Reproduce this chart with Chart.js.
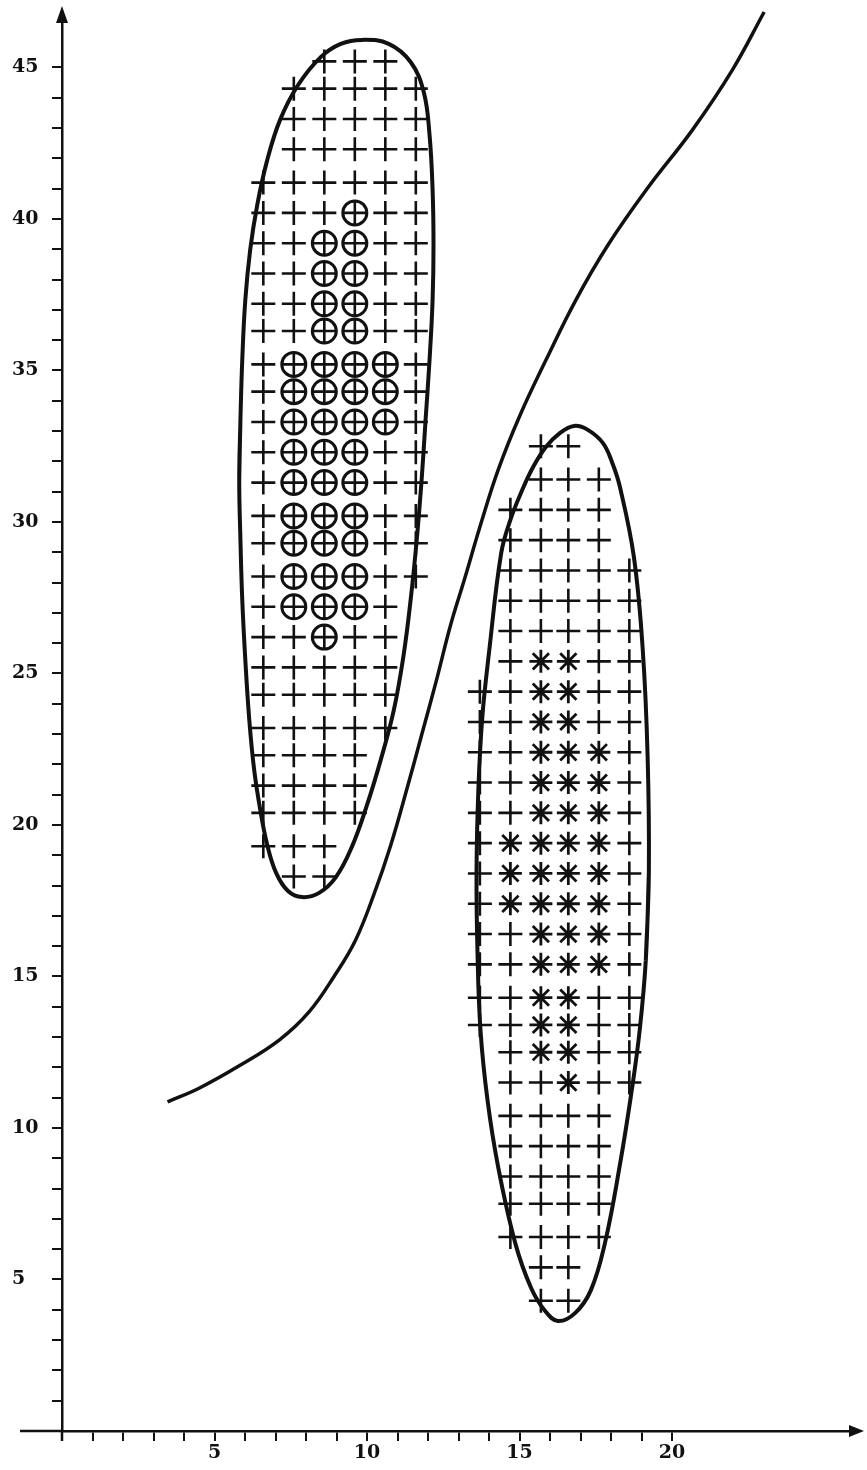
<!DOCTYPE html>
<html>
<head>
<meta charset="utf-8">
<script src="https://cdn.jsdelivr.net/npm/chart.js@4.4.1/dist/chart.umd.min.js"></script>
<style>
  html, body { margin: 0; padding: 0; background: #fff; }
  #wrap { width: 867px; height: 1470px; }
</style>
</head>
<body>
<div id="wrap"><canvas id="chart" width="867" height="1470"></canvas></div>
<script>
// upper-left cluster: column x values, row y values, and marks ('+' plain, 'o' circled, '.' none)
const leftCols = [6.6, 7.6, 8.6, 9.6, 10.6, 11.6];
const leftRows = [45.2, 44.3, 43.3, 42.3, 41.2, 40.2, 39.2, 38.2, 37.2, 36.3, 35.2, 34.3, 33.3, 32.3,
                  31.3, 30.2, 29.3, 28.2, 27.2, 26.2, 25.2, 24.3, 23.2, 22.3, 21.3, 20.4, 19.3, 18.3];
const leftMarks = [
  '..+++.', '.+++++', '.+++++', '.+++++', '++++++', '+++o++', '++oo++', '++oo++', '++oo++', '++oo++',
  '+oooo+', '+oooo+', '+oooo+', '+ooo++', '+ooo++', '+ooo++', '+ooo++', '+ooo++', '+ooo+.', '++o++.',
  '+++++.', '+++++.', '+++++.', '++++..', '++++..', '++++..', '+++...', '.++...'
];

// lower-right cluster ('+' plain, '*' asterisk)
const rightCols = [13.7, 14.7, 15.7, 16.6, 17.6, 18.6];
const rightRows = [32.5, 31.4, 30.4, 29.4, 28.4, 27.4, 26.4, 25.4, 24.4, 23.4, 22.4, 21.4, 20.4, 19.4, 18.4,
                   17.4, 16.4, 15.4, 14.3, 13.4, 12.5, 11.5, 10.4, 9.4, 8.4, 7.5, 6.4, 5.4, 4.3];
const rightMarks = [
  '..++..', '..+++.', '.++++.', '.++++.', '.+++++', '.+++++', '.+++++', '.+**++', '++**++', '++**++',
  '++***+', '++***+', '++***+', '+****+', '+****+', '+****+', '++***+', '++***+', '++**++', '++**++',
  '.+**++', '.++*++', '.++++.', '.++++.', '.++++.', '.++++.', '.++++.', '..++..', '..++..'
];

// boundary outlines (closed: the last two points repeat the start)
const leftBoundary = [
  [5.81, 31.39], [5.85, 33.37], [5.91, 35.35], [6.01, 37.33], [6.17, 38.98], [6.40, 40.46], [6.73, 41.95],
  [7.15, 43.27], [7.74, 44.42], [8.49, 45.35], [9.14, 45.78], [9.83, 45.91], [10.71, 45.78], [11.43, 45.18],
  [11.86, 44.19], [12.05, 42.77], [12.15, 40.96], [12.18, 39.14], [12.15, 37.33], [12.05, 35.35],
  [11.92, 33.37], [11.79, 31.39], [11.63, 29.41], [11.43, 27.43], [11.20, 25.61], [10.88, 23.80],
  [10.45, 22.15], [9.99, 20.63], [9.50, 19.27], [8.98, 18.28], [8.43, 17.76], [7.87, 17.62], [7.41, 17.82],
  [7.02, 18.42], [6.73, 19.34], [6.50, 20.50], [6.30, 21.82], [6.14, 23.47], [6.01, 25.45], [5.91, 27.43],
  [5.85, 29.41], [5.81, 31.39], [5.85, 33.37]
];
const rightBoundary = [
  [19.24, 18.42], [19.14, 15.54], [18.94, 13.23], [18.68, 11.25], [18.29, 8.78], [17.80, 6.20], [17.34, 4.65],
  [16.82, 3.89], [16.26, 3.63], [15.84, 3.96], [15.38, 4.72], [14.86, 6.20], [14.30, 8.71], [13.95, 10.92],
  [13.72, 13.23], [13.62, 15.87], [13.59, 18.42], [13.65, 21.16], [13.78, 23.56], [14.01, 25.78],
  [14.40, 28.98], [14.70, 30.07], [15.06, 30.99], [15.45, 31.82], [15.87, 32.48], [16.33, 32.94],
  [16.79, 33.17], [17.24, 33.04], [17.73, 32.61], [18.03, 31.98], [18.29, 31.16], [18.75, 28.84],
  [19.04, 25.78], [19.20, 22.24], [19.24, 18.42], [19.14, 15.54]
];
const separator = [
  [3.46, 10.86], [4.51, 11.32], [5.81, 12.05], [7.12, 12.90], [8.10, 13.83], [8.95, 15.05], [9.61, 16.17],
  [10.22, 17.69], [10.78, 19.34], [11.30, 21.16], [11.79, 22.97], [12.28, 24.79], [12.74, 26.60],
  [13.19, 28.09], [13.72, 29.90], [14.30, 31.72], [15.02, 33.53], [15.87, 35.35], [16.85, 37.33],
  [17.90, 39.14], [19.20, 41.02], [20.67, 42.94], [21.98, 44.92], [23.02, 46.83]
];

// axis ranges and ticks
const xMax = 25.9;
const yMax = 46.5;
const xTickLast = 20;
const yTickLast = 45;
const labelEvery = 5;

const ink = '#111';

function collect(cols, rows, marks, symbol) {
  const pts = [];
  marks.forEach((row, i) => {
    row.split('').forEach((c, j) => {
      if (c === symbol) pts.push({ x: cols[j], y: rows[i] });
    });
  });
  return pts;
}
const toXY = arr => arr.map(p => ({ x: p[0], y: p[1] }));

const plusPts = collect(leftCols, leftRows, leftMarks, '+').concat(collect(rightCols, rightRows, rightMarks, '+'));
const circlePts = collect(leftCols, leftRows, leftMarks, 'o');
const starPts = collect(rightCols, rightRows, rightMarks, '*');

function curve(points, width) {
  return {
    data: toXY(points),
    showLine: true,
    borderColor: ink,
    borderWidth: width,
    pointRadius: 0,
    tension: 0.4,
    fill: false,
    clip: false
  };
}
function marks(points, style, radius, width) {
  return {
    data: points,
    showLine: false,
    pointStyle: style,
    pointRadius: radius,
    pointBorderWidth: width,
    pointBorderColor: ink,
    pointBackgroundColor: 'rgba(0,0,0,0)'
  };
}

// axis overhang past the origin and the two arrow heads
const axisArrows = {
  id: 'axisArrows',
  afterDraw(chart) {
    const { ctx, chartArea: a, scales: { x, y } } = chart;
    const x0 = x.getPixelForValue(0);
    const y0 = y.getPixelForValue(0);
    ctx.save();
    ctx.strokeStyle = ink;
    ctx.fillStyle = ink;
    ctx.lineWidth = 2.5;
    ctx.beginPath();
    ctx.moveTo(x0 - 42, y0);
    ctx.lineTo(x0, y0);
    ctx.moveTo(x0, y0);
    ctx.lineTo(x0, y0 + 10);
    ctx.moveTo(a.right - 2, y0);
    ctx.lineTo(a.right + 2, y0);
    ctx.stroke();
    ctx.beginPath();
    ctx.moveTo(x0, a.top - 16);
    ctx.lineTo(x0 - 6, a.top + 1);
    ctx.lineTo(x0 + 6, a.top + 1);
    ctx.closePath();
    ctx.moveTo(a.right + 12, y0);
    ctx.lineTo(a.right - 3, y0 - 6);
    ctx.lineTo(a.right - 3, y0 + 6);
    ctx.closePath();
    ctx.fill();
    ctx.restore();
  }
};

const tickFont = { family: '"DejaVu Serif", serif', size: 19, weight: 'bold' };

new Chart(document.getElementById('chart'), {
  type: 'scatter',
  data: {
    datasets: [
      curve(separator, 3.5),
      curve(leftBoundary, 4),
      curve(rightBoundary, 4),
      marks(plusPts, 'cross', 12, 2.6),
      marks(circlePts, 'circle', 12, 3),
      marks(circlePts, 'cross', 12, 2.6),
      marks(starPts, 'star', 11.5, 2.8)
    ]
  },
  options: {
    responsive: false,
    animation: false,
    events: [],
    layout: { padding: { left: 12, right: 12, top: 22, bottom: 0 } },
    plugins: { legend: { display: false }, tooltip: { enabled: false } },
    scales: {
      x: {
        type: 'linear',
        position: 'bottom',
        min: 0,
        max: xMax,
        afterFit: s => { s.height = 39; },
        border: { display: true, color: ink, width: 2.5 },
        grid: {
          drawOnChartArea: false,
          drawTicks: true,
          tickLength: 10,
          lineWidth: 2,
          color: c => (c.tick && c.tick.value >= 1 && c.tick.value <= xTickLast ? ink : 'rgba(0,0,0,0)')
        },
        ticks: {
          stepSize: 1,
          autoSkip: false,
          maxRotation: 0,
          padding: 1,
          color: ink,
          font: tickFont,
          callback: v => (v > 0 && v <= xTickLast && v % labelEvery === 0 ? String(v) : '')
        }
      },
      y: {
        type: 'linear',
        position: 'left',
        min: 0,
        max: yMax,
        afterFit: s => { s.width = 50; },
        border: { display: true, color: ink, width: 2.5 },
        grid: {
          drawOnChartArea: false,
          drawTicks: true,
          tickLength: 10,
          lineWidth: 2,
          color: c => (c.tick && c.tick.value >= 1 && c.tick.value <= yTickLast ? ink : 'rgba(0,0,0,0)')
        },
        ticks: {
          stepSize: 1,
          autoSkip: false,
          crossAlign: 'far',
          color: ink,
          font: tickFont,
          callback: v => (v > 0 && v <= yTickLast && v % labelEvery === 0 ? String(v) : '')
        }
      }
    }
  },
  plugins: [axisArrows]
});
</script>
</body>
</html>
